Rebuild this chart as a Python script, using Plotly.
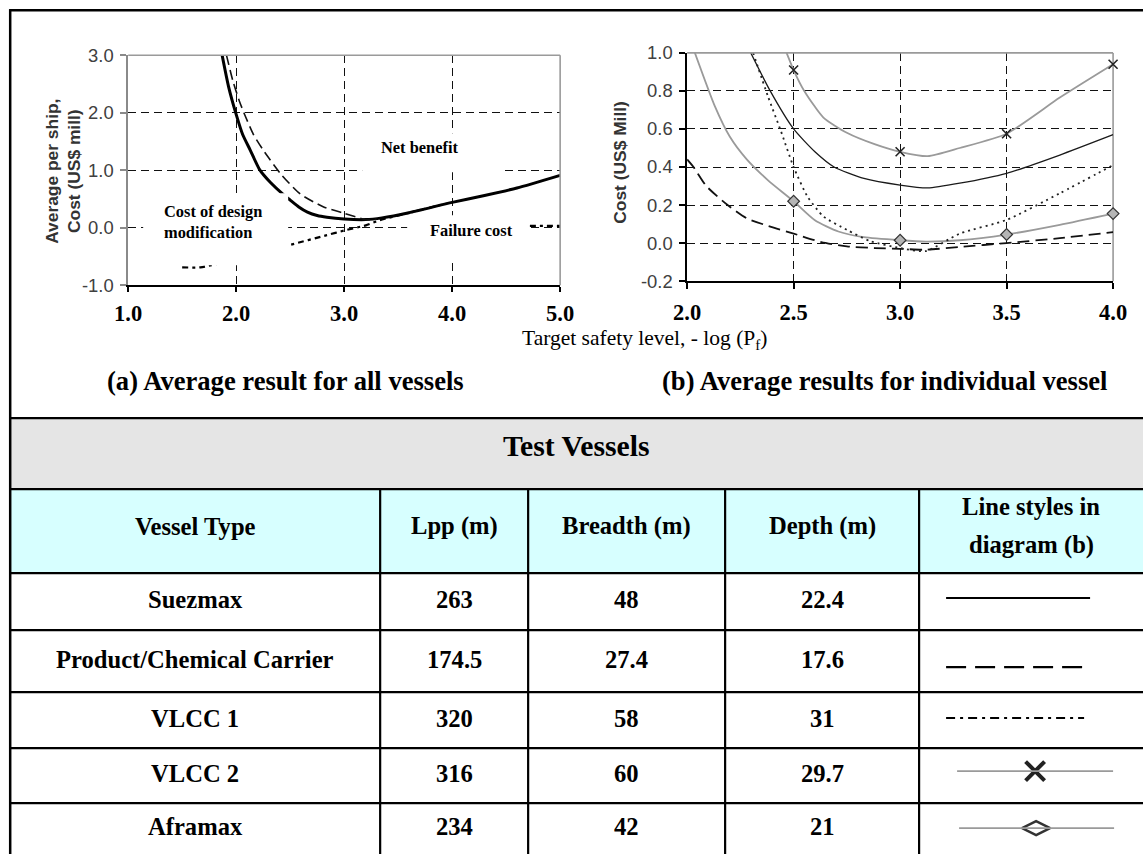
import plotly.graph_objects as go

# ---------------- (a) average result for all vessels ----------------
total_x = [1.87, 1.93, 2.0, 2.06, 2.13, 2.22, 2.32, 2.44, 2.5, 2.58, 2.66, 2.75, 2.84,
           3.0, 3.2, 3.35, 3.6, 4.0, 4.3, 4.6, 5.0]
total_y = [3.0, 2.45, 1.97, 1.62, 1.35, 1.0, 0.78, 0.57, 0.48, 0.36, 0.27, 0.21, 0.18,
           0.15, 0.14, 0.17, 0.26, 0.44, 0.56, 0.69, 0.91]

net_x = [1.91, 1.97, 2.03, 2.08, 2.16, 2.25, 2.41, 2.59, 2.81, 3.0, 3.2, 3.3]
net_y = [3.0, 2.55, 2.2, 1.96, 1.62, 1.35, 0.94, 0.59, 0.36, 0.25, 0.14, 0.15]

fail_x = [1.5, 1.67, 2.0, 2.25, 2.5, 2.84, 3.0, 3.2, 3.33, 3.58, 3.95, None, 4.72, 5.0]
fail_y = [-0.69, -0.69, -0.55, -0.42, -0.30, -0.13, -0.05, 0.04, 0.13, 0.25, 0.42, None, 0.03, 0.03]

# ---------------- (b) average results for individual vessel ----------------
suez_x = [2.29, 2.39, 2.5, 2.6, 2.69, 2.83, 3.0, 3.13, 3.28, 3.5, 3.75, 4.0]
suez_y = [1.02, 0.80, 0.60, 0.48, 0.40, 0.34, 0.305, 0.29, 0.315, 0.367, 0.463, 0.57]

prod_x = [2.0, 2.03, 2.09, 2.19, 2.28, 2.41, 2.5, 2.63, 2.75, 2.88, 3.0, 3.12, 3.28, 3.5, 3.75, 4.0]
prod_y = [0.44, 0.40, 0.30, 0.20, 0.13, 0.08, 0.05, 0.005, -0.017, -0.026, -0.03, -0.035,
          -0.02, 0.0, 0.026, 0.058]

vlcc1_x = [2.31, 2.38, 2.44, 2.5, 2.565, 2.64, 2.75, 2.86, 3.0, 3.12, 3.28, 3.5, 3.75, 4.0]
vlcc1_y = [1.0, 0.77, 0.59, 0.40, 0.245, 0.14, 0.07, 0.01, -0.026, -0.042, 0.05, 0.122, 0.262, 0.41]

vlcc2_x = [2.46, 2.5, 2.55, 2.64, 2.75, 2.88, 3.0, 3.13, 3.28, 3.5, 3.75, 4.0]
vlcc2_y = [1.02, 0.91, 0.80, 0.66, 0.58, 0.52, 0.48, 0.457, 0.50, 0.575, 0.765, 0.94]

afra_x = [2.03, 2.13, 2.2, 2.28, 2.38, 2.5, 2.6, 2.71, 2.83, 3.0, 3.12, 3.28, 3.5, 3.75, 4.0]
afra_y = [1.02, 0.72, 0.56, 0.44, 0.33, 0.22, 0.12, 0.061, 0.031, 0.015, 0.008, 0.015,
          0.045, 0.096, 0.155]

marker_levels = [2.5, 3.0, 3.5, 4.0]

ticks_a_x = [1.0, 2.0, 3.0, 4.0, 5.0]
ticks_a_y = [-1.0, 0.0, 1.0, 2.0, 3.0]
ticks_b_x = [2.0, 2.5, 3.0, 3.5, 4.0]
ticks_b_y = [-0.2, 0.0, 0.2, 0.4, 0.6, 0.8, 1.0]

# ---------------- test vessel table ----------------
table_title = "Test Vessels"
table_headers = ["Vessel Type", "Lpp (m)", "Breadth (m)", "Depth (m)"]
legend_header = ["Line styles in", "diagram (b)"]
vessel_types = ["Suezmax", "Product/Chemical Carrier", "VLCC 1", "VLCC 2", "Aframax"]
lpp_m = [263, 174.5, 320, 316, 234]
breadth_m = [48, 27.4, 58, 60, 42]
depth_m = [22.4, 17.6, 31, 29.7, 21]

# ---------------- view geometry ----------------
# layout positions below are given in view pixels (1143 x 854); the figure sits
# inside the page body margin and the view shows the page at scale S.
VIEW_W, VIEW_H = 1143, 854
S, CX, CY, M = 0.976, 6.0, 3.0, 8
W, H = 1162, 868


def fx(p):
    return ((p - CX) / S - M) / W


def fy(p):
    return 1 - ((p - CY) / S - M) / H


def fs(v):
    return round(v / S, 1)


SERIF = "Liberation Serif, Times New Roman, serif"
SANS = "Liberation Sans, Arial, sans-serif"
GRID = dict(showgrid=True, gridcolor="#111111", gridwidth=1.3, griddash="8px,5px",
            zeroline=False, fixedrange=True)

fig = go.Figure()

# --- chart (a)
fig.add_trace(go.Scatter(x=total_x, y=total_y, mode="lines", xaxis="x", yaxis="y",
                         line=dict(color="black", width=3, shape="spline", smoothing=0.6),
                         hoverinfo="skip"))
fig.add_trace(go.Scatter(x=net_x, y=net_y, mode="lines", xaxis="x", yaxis="y",
                         line=dict(color="#111111", width=1.6, dash="10px,5px",
                                   shape="spline", smoothing=0.6),
                         hoverinfo="skip"))
fig.add_trace(go.Scatter(x=fail_x, y=fail_y, mode="lines", xaxis="x", yaxis="y",
                         line=dict(color="black", width=2.2, dash="6px,4px,3px,4px",
                                   shape="spline", smoothing=0.6),
                         hoverinfo="skip"))

# --- chart (b)
def pick(xs, ys):
    return [x for x in xs if x in marker_levels], [y for x, y in zip(xs, ys) if x in marker_levels]


fig.add_trace(go.Scatter(x=afra_x, y=afra_y, mode="lines", xaxis="x2", yaxis="y2",
                         line=dict(color="#9a9a9a", width=1.8, shape="spline", smoothing=0.6),
                         hoverinfo="skip"))
fig.add_trace(go.Scatter(x=vlcc2_x, y=vlcc2_y, mode="lines", xaxis="x2", yaxis="y2",
                         line=dict(color="#9a9a9a", width=1.8, shape="spline", smoothing=0.6),
                         hoverinfo="skip"))
fig.add_trace(go.Scatter(x=suez_x, y=suez_y, mode="lines", xaxis="x2", yaxis="y2",
                         line=dict(color="#1a1a1a", width=1.3, shape="spline", smoothing=0.6),
                         hoverinfo="skip"))
fig.add_trace(go.Scatter(x=prod_x, y=prod_y, mode="lines", xaxis="x2", yaxis="y2",
                         line=dict(color="#111111", width=1.8, dash="12px,6px",
                                   shape="spline", smoothing=0.6),
                         hoverinfo="skip"))
fig.add_trace(go.Scatter(x=vlcc1_x, y=vlcc1_y, mode="lines", xaxis="x2", yaxis="y2",
                         line=dict(color="#222222", width=1.8, dash="2px,4px",
                                   shape="spline", smoothing=0.6),
                         hoverinfo="skip"))
mx, my = pick(vlcc2_x, vlcc2_y)
fig.add_trace(go.Scatter(x=mx, y=my, mode="markers", xaxis="x2", yaxis="y2", cliponaxis=False,
                         marker=dict(symbol="x-thin-open", size=9, color="#222222",
                                     line=dict(color="#222222", width=1.6)),
                         hoverinfo="skip"))
mx, my = pick(afra_x, afra_y)
fig.add_trace(go.Scatter(x=mx, y=my, mode="markers", xaxis="x2", yaxis="y2", cliponaxis=False,
                         marker=dict(symbol="diamond", size=9, color="#b5b5b5",
                                     line=dict(color="#333333", width=1.2)),
                         hoverinfo="skip"))

# --- line style samples in the table (view-pixel overlay axes)
sample_y = [598, 667, 718, 771, 828]
fig.add_trace(go.Scatter(x=[1035], y=[sample_y[3]], mode="markers", xaxis="x3", yaxis="y3",
                         cliponaxis=False,
                         marker=dict(symbol="x-thin-open", size=19, color="#222222",
                                     line=dict(color="#222222", width=4)),
                         hoverinfo="skip"))
fig.add_trace(go.Scatter(x=[1036], y=[sample_y[4]], mode="markers", xaxis="x3", yaxis="y3",
                         cliponaxis=False,
                         marker=dict(symbol="diamond-wide", size=20, color="white",
                                     line=dict(color="#333333", width=2.5)),
                         hoverinfo="skip"))

shapes = []
annotations = []

# plot frames: gray top/right borders
for xr, yr, right_above in (("x", "y", True), ("x2", "y2", False)):
    shapes.append(dict(type="line", xref=f"{xr} domain", yref=f"{yr} domain",
                       x0=0, x1=1, y0=1, y1=1, line=dict(color="#9a9a9a", width=1.6),
                       layer="above"))
    shapes.append(dict(type="line", xref=f"{xr} domain", yref=f"{yr} domain",
                       x0=1, x1=1, y0=0, y1=1, line=dict(color="#9a9a9a", width=1.6),
                       layer="above" if right_above else "below"))

# white label boxes in chart (a)
for x0, x1, y0, y1 in ((143, 288, 193, 265), (362, 504, 133, 172), (407, 528, 215, 259)):
    shapes.append(dict(type="rect", xref="paper", yref="paper",
                       x0=fx(x0), x1=fx(x1), y0=fy(y1), y1=fy(y0),
                       fillcolor="white", line=dict(width=0), layer="above"))

# outer frame
shapes.append(dict(type="line", xref="paper", yref="paper", x0=fx(9), x1=fx(VIEW_W + 10),
                   y0=fy(10), y1=fy(10), line=dict(color="black", width=2.5)))
shapes.append(dict(type="line", xref="paper", yref="paper", x0=fx(10), x1=fx(10),
                   y0=fy(VIEW_H + 10), y1=fy(9), line=dict(color="black", width=2.5)))

# table
row_edges = [418, 489, 573, 630, 692, 748, 803, VIEW_H]
col_edges = [10, 380, 528, 725, 919, VIEW_W]
shapes.append(dict(type="rect", xref="paper", yref="paper", x0=fx(10), x1=fx(VIEW_W + 10),
                   y0=fy(row_edges[1]), y1=fy(row_edges[0]), fillcolor="#e5e5e5",
                   line=dict(width=0), layer="below"))
shapes.append(dict(type="rect", xref="paper", yref="paper", x0=fx(10), x1=fx(VIEW_W + 10),
                   y0=fy(row_edges[2]), y1=fy(row_edges[1]), fillcolor="#d7ffff",
                   line=dict(width=0), layer="below"))
for r in row_edges[:-1]:
    shapes.append(dict(type="line", xref="paper", yref="paper", x0=fx(9), x1=fx(VIEW_W + 10),
                       y0=fy(r), y1=fy(r), line=dict(color="black", width=2.2)))
for c in col_edges[1:-1]:
    shapes.append(dict(type="line", xref="paper", yref="paper", x0=fx(c), x1=fx(c),
                       y0=fy(VIEW_H + 10), y1=fy(row_edges[1]),
                       line=dict(color="black", width=2.2)))

# line style samples
shapes.append(dict(type="line", xref="paper", yref="paper", x0=fx(946), x1=fx(1090),
                   y0=fy(sample_y[0]), y1=fy(sample_y[0]), line=dict(color="black", width=2)))
shapes.append(dict(type="line", xref="paper", yref="paper", x0=fx(946), x1=fx(1084),
                   y0=fy(sample_y[1]), y1=fy(sample_y[1]),
                   line=dict(color="black", width=2.2, dash="20px,9px")))
shapes.append(dict(type="line", xref="paper", yref="paper", x0=fx(946), x1=fx(1084),
                   y0=fy(sample_y[2]), y1=fy(sample_y[2]),
                   line=dict(color="black", width=2, dash="9px,5px,3px,5px")))
shapes.append(dict(type="line", xref="paper", yref="paper", x0=fx(957), x1=fx(1113),
                   y0=fy(sample_y[3]), y1=fy(sample_y[3]), line=dict(color="#9a9a9a", width=1.8)))
shapes.append(dict(type="line", xref="paper", yref="paper", x0=fx(959), x1=fx(1114),
                   y0=fy(sample_y[4]), y1=fy(sample_y[4]), line=dict(color="#9a9a9a", width=1.8)))


def text(s, x, y, size, bold=True, family=SERIF, color="black", xanchor="center", **kw):
    annotations.append(dict(text=s, x=fx(x), y=fy(y), xref="paper", yref="paper",
                            showarrow=False, xanchor=xanchor, yanchor="middle",
                            font=dict(family=family, size=fs(size), color=color,
                                      weight="bold" if bold else "normal"), **kw))


# chart texts
text("Average per ship,<br>Cost (US$ mill)", 62.5, 171, 17, family=SANS, color="#333333",
     textangle=-90)
text("Cost (US$ Mill)", 620, 162.5, 17, family=SANS, color="#333333", textangle=-90)
text("Cost of design<br>modification", 162, 222, 16, xanchor="left", align="left")
text("Net benefit", 379, 147, 16, xanchor="left")
text("Failure cost", 428, 230, 16, xanchor="left")
text("Target safety level, - log (P<sub>f</sub>)", 645, 339, 21, bold=False)
text("(a) Average result for all vessels", 105, 381, 26, xanchor="left")
text("(b) Average results for individual vessel", 660, 381, 26, xanchor="left")

# table texts
text(table_title, (col_edges[0] + col_edges[-1]) / 2, 446, 29)
col_centers = [(a + b) / 2 for a, b in zip(col_edges[:-1], col_edges[1:])]
for c, h in zip(col_centers, table_headers):
    text(h, c, 526, 24)
text(legend_header[0], col_centers[4], 506, 24)
text(legend_header[1], col_centers[4], 545, 24)
row_centers = [(a + b) / 2 for a, b in zip(row_edges[2:-1], row_edges[3:])]
for i, rc in enumerate(row_centers):
    cells = [vessel_types[i], f"{lpp_m[i]:g}", f"{breadth_m[i]:g}", f"{depth_m[i]:g}"]
    for c, s in zip(col_centers, cells):
        text(s, c, rc - 2, 24)

fig.update_layout(
    width=W, height=H, margin=dict(l=0, r=0, t=0, b=0),
    paper_bgcolor="white", plot_bgcolor="rgba(0,0,0,0)", showlegend=False,
    xaxis=dict(domain=[fx(128), fx(560)], range=[1, 5], anchor="y",
               tickvals=ticks_a_x, ticktext=[f"{v:.1f}" for v in ticks_a_x],
               showline=True, linecolor="black", linewidth=2,
               ticks="outside", ticklen=5, tickwidth=1.5, tickcolor="black",
               tickfont=dict(family=SERIF, size=fs(22), color="black", weight="bold"),
               ticklabelstandoff=2, **GRID),
    yaxis=dict(domain=[fy(285), fy(55)], range=[-1, 3], anchor="x",
               tickvals=ticks_a_y, ticktext=[f"{v:.1f}" for v in ticks_a_y],
               showline=True, linecolor="#8a8a8a", linewidth=1.6,
               ticks="outside", ticklen=6, tickwidth=1.5, tickcolor="#8a8a8a",
               tickfont=dict(family=SANS, size=fs(18), color="#404040"),
               ticklabelstandoff=3, **GRID),
    xaxis2=dict(domain=[fx(687), fx(1113)], range=[2, 4], anchor="y2",
                tickvals=ticks_b_x, ticktext=[f"{v:.1f}" for v in ticks_b_x],
                showline=True, linecolor="black", linewidth=1.6,
                ticks="outside", ticklen=6, tickwidth=1.5, tickcolor="black",
                tickfont=dict(family=SERIF, size=fs(22), color="black", weight="bold"),
                ticklabelstandoff=4, **GRID),
    yaxis2=dict(domain=[fy(281), fy(52.7)], range=[-0.2, 1.0], anchor="x2",
                tickvals=ticks_b_y, ticktext=[f"{v:.1f}" for v in ticks_b_y],
                showline=True, linecolor="black", linewidth=1.6,
                ticks="outside", ticklen=6, tickwidth=1.5, tickcolor="black",
                tickfont=dict(family=SANS, size=fs(18), color="#404040"),
                ticklabelstandoff=3, **GRID),
    # overlay axes expressed directly in view pixels
    xaxis3=dict(domain=[0, 1], range=[S * M + CX, S * (W + M) + CX], visible=False,
                anchor="y3", fixedrange=True),
    yaxis3=dict(domain=[0, 1], range=[S * (H + M) + CY, S * M + CY], visible=False,
                anchor="x3", fixedrange=True),
    shapes=shapes, annotations=annotations,
)

fig.write_html("out.html")
